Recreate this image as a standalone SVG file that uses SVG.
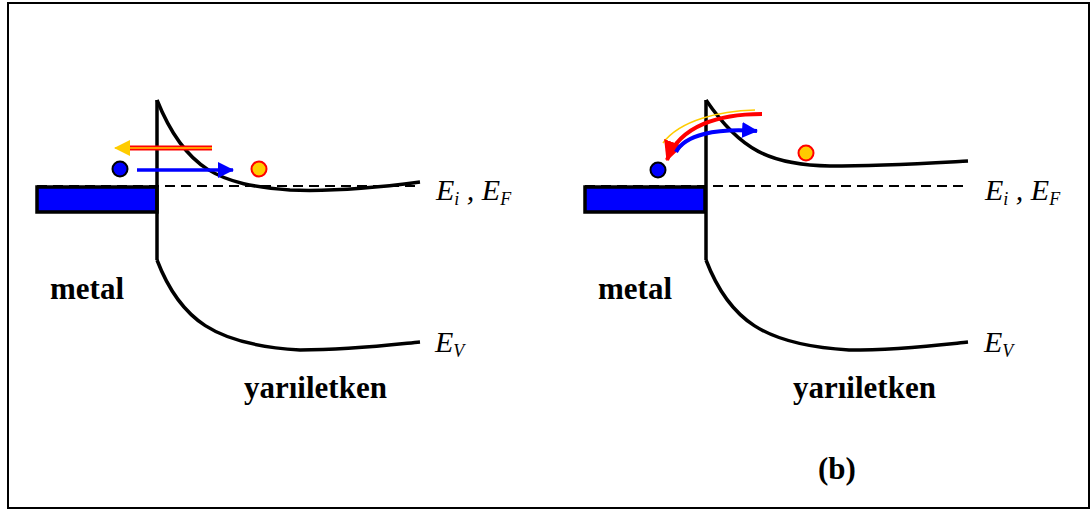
<svg xmlns="http://www.w3.org/2000/svg" width="1091" height="510" viewBox="0 0 1091 510">
<defs>
<style>
.band{fill:none;stroke:#000;stroke-width:3.5}
.dash{fill:none;stroke:#000;stroke-width:2;stroke-dasharray:10 6}
.metal{fill:#0000ff;stroke:#000;stroke-width:3.5}
.lbl{font-weight:bold;font-size:31px}
.e{font-style:italic;font-size:30px}
.sub{font-size:18px}
.elec{fill:#0000ff;stroke:#000;stroke-width:2}
.hole{fill:#ffcc00;stroke:#ff0000;stroke-width:2}
</style>
<marker id="ab" viewBox="0 0 16 16" refX="15" refY="8" markerWidth="16" markerHeight="16" orient="auto" markerUnits="userSpaceOnUse"><path d="M0,0L16,8L0,16z" fill="#0000ff"/></marker>
<marker id="ay" viewBox="0 0 16 16" refX="15" refY="8" markerWidth="16" markerHeight="16" orient="auto" markerUnits="userSpaceOnUse"><path d="M0,0L16,8L0,16z" fill="#ffcc00"/></marker>
<marker id="ar" viewBox="0 0 16 16" refX="15" refY="8" markerWidth="20" markerHeight="20" orient="auto" markerUnits="userSpaceOnUse"><path d="M0,0L16,8L0,16z" fill="#ff0000"/></marker>
</defs>
<rect x="8" y="3" width="1081" height="505" fill="#fff" stroke="#000" stroke-width="2"/>
<g id="panel-a">
<g id="metal-a"><rect class="metal" x="37" y="187" width="120" height="25"/></g>
<g id="fermi-a"><path class="dash" d="M37,186H420"/></g>
<g id="bands-a">
<path class="band" d="M157,100V260"/>
<path class="band" d="M157,100C185,170 220,185 290,190C340,192 390,186 420,182"/>
<path class="band" d="M157,260C180,320 215,345 300,350C350,350 390,345 420,342"/>
</g>
<g id="carriers-a">
<circle class="elec" cx="120" cy="169" r="7.5"/>
<circle class="hole" cx="259" cy="169" r="7.5"/>
</g>
<g id="arrows-a">
<path d="M212,148H128" stroke="#ff0000" stroke-width="5" fill="none"/>
<path d="M212,148H115" stroke="#ffcc00" stroke-width="1.5" fill="none" marker-end="url(#ay)"/>
<path d="M137,170H233" stroke="#0000ff" stroke-width="3.5" fill="none" marker-end="url(#ab)"/>
</g>
<g id="labels-a" font-family="Liberation Serif, DejaVu Serif, serif">
<text class="lbl" x="50" y="299">metal</text>
<text class="lbl" x="244" y="398">yarıiletken</text>
<text class="e" x="436" y="200">E<tspan class="sub" dy="5">i</tspan><tspan dy="-5"> , E</tspan><tspan class="sub" dy="5">F</tspan></text>
<text class="e" x="435" y="352">E<tspan class="sub" dy="5">V</tspan></text>
</g>
</g>
<g id="panel-b">
<g id="metal-b"><rect class="metal" x="585" y="187" width="120" height="25"/></g>
<g id="fermi-b"><path class="dash" d="M585,186H968"/></g>
<g id="bands-b">
<path class="band" d="M706,100V260"/>
<path class="band" d="M706,100C740,150 770,165 830,166C880,166 930,163 968,161"/>
<path class="band" d="M706,260C729,320 764,345 849,350C899,350 939,345 968,342"/>
</g>
<g id="carriers-b">
<circle class="elec" cx="658" cy="170" r="7.5"/>
<circle class="hole" cx="806" cy="153" r="7.5"/>
</g>
<g id="arrows-b">
<path d="M755,110C720,111 680,120 663,143" stroke="#ffcc00" stroke-width="1.5" fill="none"/>
<path d="M762,114C720,114 680,125 667,160" stroke="#ff0000" stroke-width="4" fill="none" marker-end="url(#ar)"/>
<path d="M676,152C685,135 715,128 757,131" stroke="#0000ff" stroke-width="4" fill="none" marker-end="url(#ab)"/>
</g>
<g id="labels-b" font-family="Liberation Serif, DejaVu Serif, serif">
<text class="lbl" x="598" y="299">metal</text>
<text class="lbl" x="793" y="398">yarıiletken</text>
<text class="e" x="985" y="200">E<tspan class="sub" dy="5">i</tspan><tspan dy="-5"> , E</tspan><tspan class="sub" dy="5">F</tspan></text>
<text class="e" x="984" y="352">E<tspan class="sub" dy="5">V</tspan></text>
<text class="lbl" x="818" y="479">(b)</text>
</g>
</g>
</svg>
